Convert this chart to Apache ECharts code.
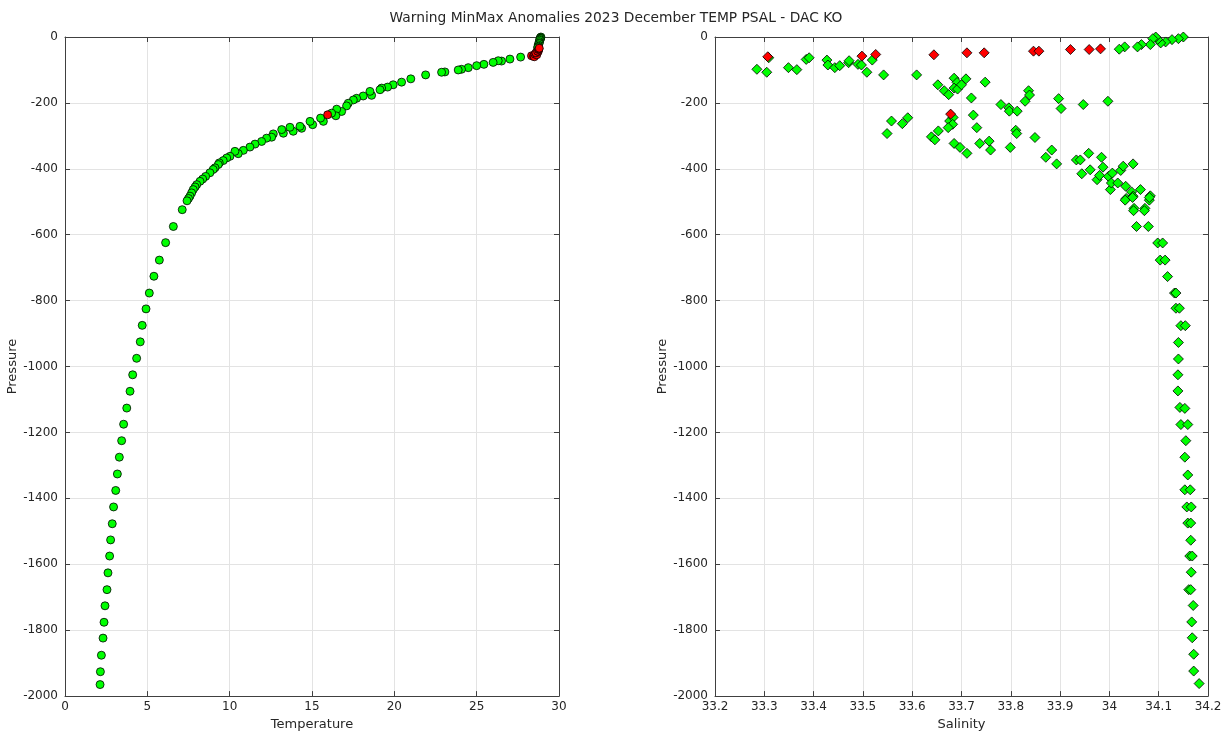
<!DOCTYPE html>
<html>
<head>
<meta charset="utf-8">
<script src="https://cdn.jsdelivr.net/npm/echarts@6/dist/echarts.min.js"></script>
<style>html,body{margin:0;padding:0;background:#fff;}#c{width:1232px;height:736px;}</style>
</head>
<body>
<div id="c"></div>
<script>
// ---- Data ----
const titleText = 'Warning MinMax Anomalies 2023 December TEMP PSAL - DAC KO';
const tempTicks = [0, 5, 10, 15, 20, 25, 30];
const psalTicks = [33.2, 33.3, 33.4, 33.5, 33.6, 33.7, 33.8, 33.9, 34, 34.1, 34.2];
const presTicks = [-2000, -1800, -1600, -1400, -1200, -1000, -800, -600, -400, -200, 0];

// Temperature profile [temperature, pressure] - good points
const tempGood = [
  [28.90,0],[28.88,-2],[28.85,-4],[28.88,-5],[28.85,-8],[28.82,-10],[28.80,-14],[28.80,-18],
  [28.78,-20],[28.74,-24],[28.75,-28],[28.72,-30],[28.70,-33],
  [27.67,-61],[27.02,-67],[26.51,-73],[26.31,-72],[26.00,-77],[25.44,-83],[25.00,-87],[24.49,-93],
  [24.08,-98],[23.88,-100],[23.07,-106],[22.87,-107],[21.90,-115],[21.00,-127],[20.44,-137],
  [19.93,-145],[19.59,-152],[19.23,-155],[19.13,-160],[18.62,-177],[18.52,-165],[18.11,-179],
  [17.71,-186],[17.51,-191],[17.20,-201],[17.10,-209],[16.80,-226],[16.50,-219],[16.45,-239],
  [16.19,-231],[15.69,-256],[15.52,-246],[15.04,-266],[14.88,-256],[14.37,-277],[14.27,-271],
  [13.86,-286],[13.66,-274],[13.26,-292],[13.16,-281],[12.65,-294],[12.55,-304],[12.24,-307],
  [11.94,-317],[11.54,-325],[11.23,-334],[10.83,-344],[10.52,-354],[10.32,-347],[10.02,-362],
  [9.82,-367],[9.61,-375],[9.37,-382],[9.31,-387],[9.11,-397],[9.00,-402],[8.80,-412],
  [8.54,-423],[8.36,-431],[8.20,-438],[8.00,-448],[7.90,-455],[7.79,-463],[7.69,-473],
  [7.59,-483],[7.50,-490],[7.41,-497],[7.12,-524],[6.58,-575],[6.11,-624],[5.73,-677],
  [5.40,-726],[5.12,-777],[4.92,-825],[4.69,-875],[4.57,-925],[4.35,-975],[4.11,-1025],
  [3.95,-1075],[3.75,-1126],[3.56,-1175],[3.44,-1225],[3.30,-1275],[3.18,-1326],[3.08,-1376],
  [2.95,-1426],[2.87,-1477],[2.77,-1526],[2.71,-1575],[2.61,-1626],[2.55,-1677],[2.43,-1726],
  [2.37,-1776],[2.31,-1824],[2.21,-1876],[2.15,-1926],[2.13,-1965]
];
// Temperature profile - flagged points
const tempBad = [
  [28.33,-57],[28.45,-58],[28.50,-60],[28.54,-52],[28.65,-54],[28.60,-48],
  [28.74,-44],[28.70,-43],[28.75,-38],[28.78,-36],[28.80,-34],[15.95,-236]
];

// Salinity profile [salinity, pressure] - good points
const psalGood = [
  [34.150,0],[34.140,-5],[34.127,-8],[34.114,-15],[34.104,-18],[34.098,-7],[34.094,0],[34.088,-5],
  [34.083,-23],[34.065,-23],[34.057,-30],[34.031,-30],[34.020,-37],
  [33.285,-98],[33.305,-107],[33.309,-63],[33.349,-93],[33.366,-99],[33.385,-68],[33.391,-63],
  [33.427,-70],[33.429,-85],[33.443,-93],[33.453,-87],[33.471,-78],[33.472,-72],[33.490,-83],
  [33.497,-85],[33.508,-107],[33.519,-70],[33.542,-115],[33.609,-115],
  [33.558,-255],[33.549,-293],[33.580,-263],[33.591,-245],[33.652,-145],[33.665,-163],[33.674,-175],
  [33.685,-125],[33.691,-138],[33.685,-155],[33.692,-158],[33.700,-145],[33.709,-127],[33.720,-185],
  [33.748,-137],[33.676,-255],[33.683,-244],[33.682,-265],[33.673,-275],[33.653,-285],[33.639,-303],
  [33.646,-312],[33.685,-323],[33.697,-335],[33.711,-353],[33.724,-237],[33.731,-275],[33.737,-323],
  [33.756,-316],[33.759,-343],[33.780,-205],[33.796,-215],[33.797,-225],[33.813,-225],[33.799,-335],
  [33.810,-283],[33.812,-293],[33.829,-195],[33.836,-163],[33.838,-176],[33.849,-305],[33.871,-365],
  [33.883,-343],[33.893,-385],[33.897,-187],[33.902,-217],[33.947,-205],[33.997,-195],[33.933,-373],
  [33.941,-373],[33.958,-353],[33.944,-415],[33.961,-403],[33.975,-433],[33.980,-420],[33.984,-365],
  [33.987,-395],[33.998,-423],[34.006,-413],[34.002,-463],[34.004,-443],[34.017,-443],[34.023,-405],
  [34.028,-392],[34.033,-453],[34.034,-490],[34.045,-470],[34.048,-483],[34.048,-385],[34.050,-520],
  [34.063,-463],[34.072,-520],[34.081,-495],[34.083,-482],[34.032,-495],[34.047,-487],[34.081,-487],
  [34.049,-527],[34.071,-527],[34.055,-575],[34.079,-575],
  [34.098,-625],[34.108,-625],[34.103,-677],[34.113,-677],[34.118,-727],[34.132,-777],[34.135,-777],
  [34.135,-823],[34.142,-823],[34.145,-876],[34.154,-876],[34.140,-927],[34.140,-977],[34.139,-1025],
  [34.139,-1074],[34.143,-1124],[34.153,-1127],[34.145,-1176],[34.159,-1176],[34.155,-1225],
  [34.153,-1275],[34.159,-1329],[34.153,-1374],[34.164,-1374],[34.157,-1426],[34.166,-1426],
  [34.159,-1475],[34.165,-1475],[34.165,-1527],[34.163,-1575],[34.168,-1575],[34.166,-1624],
  [34.161,-1677],[34.165,-1677],[34.170,-1725],[34.167,-1775],[34.168,-1823],[34.171,-1873],
  [34.171,-1924],[34.182,-1962]
];
// Salinity profile - flagged points
const psalBad = [
  [33.307,-60],[33.498,-58],[33.526,-53],[33.644,-54],[33.711,-48],[33.746,-48],
  [33.846,-43],[33.857,-43],[33.921,-38],[33.959,-38],[33.982,-36],[33.678,-234]
];

// ---- Chart ----
const FONT = 'DejaVu Sans';
const TXT = '#262626';
const AX = '#404040';
const GRIDC = '#e3e3e3';

function fmtNum(v){ return String(+(+v).toFixed(1)); }
function fmtInt(v){ return String(Math.round(v)); }

function xAxes(gridIndex, min, max, interval, name){
  const base = {
    gridIndex, type:'value', min, max, interval,
    axisLine:{show:true, onZero:false, lineStyle:{color:AX, width:1}},
    axisTick:{show:true, inside:true, length:5, lineStyle:{color:AX}},
  };
  return [
    Object.assign({}, base, {
      position:'bottom', name, nameLocation:'middle', nameGap:20,
      nameTextStyle:{fontFamily:FONT, fontSize:13, color:TXT},
      axisLabel:{show:true, fontFamily:FONT, fontSize:12, color:TXT, margin:5, formatter:fmtNum, showMinLabel:true, showMaxLabel:true, hideOverlap:false},
      splitLine:{show:true, lineStyle:{color:GRIDC, width:1}}
    }),
    Object.assign({}, base, {
      position:'top', axisLabel:{show:false}, splitLine:{show:false}
    })
  ];
}
function yAxes(gridIndex, name){
  const base = {
    gridIndex, type:'value', min:-2000, max:0, interval:200,
    axisLine:{show:true, onZero:false, lineStyle:{color:AX, width:1}},
    axisTick:{show:true, inside:true, length:5, lineStyle:{color:AX}},
  };
  return [
    Object.assign({}, base, {
      position:'left', name, nameLocation:'middle', nameGap:40, nameRotate:90,
      nameTextStyle:{fontFamily:FONT, fontSize:13, color:TXT},
      axisLabel:{show:true, fontFamily:FONT, fontSize:12, color:TXT, margin:7, formatter:fmtInt, showMinLabel:true, showMaxLabel:true, hideOverlap:false},
      splitLine:{show:true, lineStyle:{color:GRIDC, width:1}}
    }),
    Object.assign({}, base, {
      position:'right', axisLabel:{show:false}, splitLine:{show:false}
    })
  ];
}

const xA = [].concat(xAxes(0, 0, 30, 5, 'Temperature'), xAxes(1, 33.2, 34.2, 0.1, 'Salinity'));
const yA = [].concat(yAxes(0, 'Pressure'), yAxes(1, 'Pressure'));

function sc(data, xi, yi, symbol, size, color){
  return {
    type:'scatter', xAxisIndex:xi, yAxisIndex:yi, data, symbol, symbolSize:size,
    silent:true, animation:false,
    itemStyle:{color, borderColor:'#000', borderWidth:0.8, opacity:1}
  };
}

const chart = echarts.init(document.getElementById('c'), null, {renderer:'canvas'});
chart.setOption({
  backgroundColor:'#ffffff',
  animation:false,
  title:{text:titleText, left:'center', top:6, textStyle:{fontFamily:FONT, fontSize:13.8, fontWeight:'normal', color:TXT}},
  grid:[
    {left:65, right:673, top:37, bottom:38, containLabel:false},
    {left:715, right:24, top:37, bottom:38, containLabel:false}
  ],
  xAxis:xA,
  yAxis:yA,
  series:[
    sc(tempGood, 0, 0, 'circle', 8, '#00ff00'),
    sc(tempBad, 0, 0, 'circle', 8, '#ff0000'),
    sc(psalGood, 2, 2, 'diamond', 10, '#00ff00'),
    sc(psalBad, 2, 2, 'diamond', 10, '#ff0000')
  ]
});
</script>
</body>
</html>
